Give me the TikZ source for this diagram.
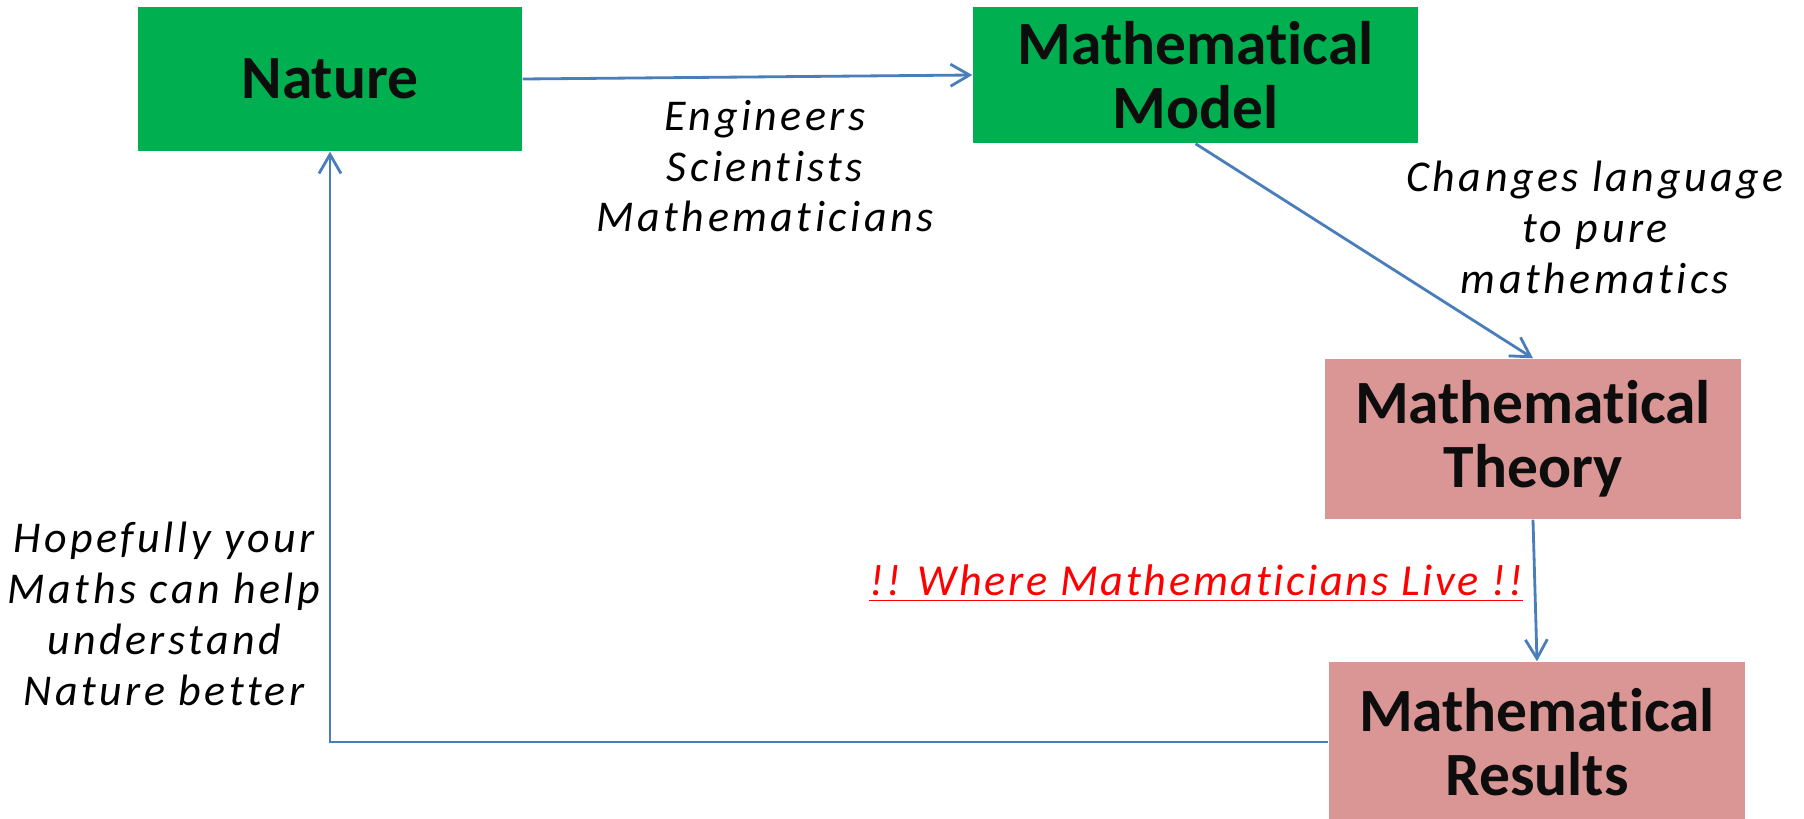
\documentclass[tikz,border=0pt]{standalone}
\usepackage{fontspec}
\setmainfont[Ligatures=NoCommon]{Carlito}
\newfontfamily\labfont[LetterSpace=8,Ligatures=NoCommon]{Carlito}
\newfontfamily\redfont[LetterSpace=6,Ligatures=NoCommon]{Carlito}
\usetikzlibrary{arrows.meta}
\definecolor{boxgreen}{HTML}{00B050}
\definecolor{boxpink}{HTML}{D99694}
\definecolor{linkblue}{HTML}{4A7EBB}
\definecolor{redtext}{HTML}{FF0000}
\tikzset{
  box/.style={fill=#1, draw=none, align=center, inner sep=0pt,
    font=\fontsize{17.5}{18.2}\selectfont\bfseries, text=black!95},
  lab/.style={align=center, inner sep=0pt,
    font=\labfont\itshape\fontsize{12.5}{14.5}\selectfont},
  redlab/.style={inner sep=0pt, text=redtext,
    font=\redfont\itshape\fontsize{12.6}{14.5}\selectfont},
  link/.style={draw=linkblue, line width=0.8pt},
  arr/.style={link, -{Straight Barb[length=1.9mm,width=2.2mm,line width=0.8pt]}},
}
\begin{document}
\begin{tikzpicture}[x=0.1mm,y=-0.1mm]
\useasboundingbox (0,0) rectangle (1804,819);
\node[box=boxgreen, minimum width=38.4mm, minimum height=14.4mm] (nature) at (330,79) {Nature};
\node[box=boxgreen, minimum width=44.5mm, minimum height=13.6mm] (model) at (1195.5,75) {Mathematical\\Model};
\node[box=boxpink, minimum width=41.6mm, minimum height=16mm] (theory) at (1533,439) {Mathematical\\Theory};
\node[box=boxpink, minimum width=41.6mm, minimum height=16mm] (results) at (1537,742) {Mathematical\\Results};
\draw[arr] (nature.east) -- (model.west);
\draw[arr] (model.south) -- (theory.north);
\draw[arr] (theory.south) -- (results.north);
\draw[arr] (results.west) -| (nature.south);
\node[lab, anchor=base] (eng) at (765,232) {Engineers\\Scientists\\Mathematicians};
\node[lab, anchor=base] (chg) at (1595,293) {Changes language\\to pure\\mathematics};
\node[lab, anchor=base] (hope) at (164,705) {Hopefully your\\Maths can help\\understand\\Nature better};
\node[redlab, anchor=base] (live) at (1196,595) {\underline{!! Where Mathematicians Live !!}};
\end{tikzpicture}
\end{document}
